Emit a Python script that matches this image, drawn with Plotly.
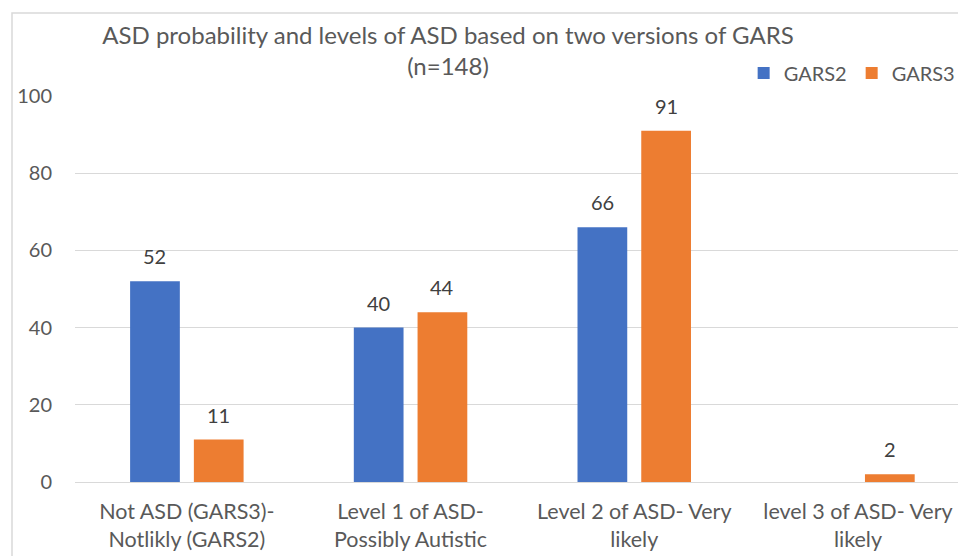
import plotly.graph_objects as go

categories = ["Not ASD (GARS3)-<br>Notlikly (GARS2)", "Level 1 of ASD-<br>Possibly Autistic",
              "Level 2 of ASD- Very<br>likely", "level 3 of ASD- Very<br>likely"]
gars2 = [52, 40, 66, None]
gars3 = [11, 44, 91, 2]
series_names = ["GARS2", "GARS3"]
colors = ["#4472C4", "#ED7D31"]
title_text = "ASD probability and levels of ASD based on two versions of GARS<br>(n=148)"
y_ticks = [0, 20, 40, 60, 80, 100]

FONT = "Lato"
W, H = 958, 556
ML, MT, MB = 75, 96, 74
BARGAP = 0.43
BARGROUPGAP = 0.22

fig = go.Figure()
for name, vals, col in zip(series_names, [gars2, gars3], colors):
    fig.add_trace(go.Bar(name=name, x=categories, y=vals, marker_color=col,
                         marker_line_width=0))

# data labels
slot = (1 - BARGAP) / len(series_names)
annotations = []
for s, vals in enumerate([gars2, gars3]):
    off = (s - (len(series_names) - 1) / 2) * slot
    for i, v in enumerate(vals):
        if v is None:
            continue
        annotations.append(dict(x=i + off, y=v, text=str(v), showarrow=False,
                                yshift=25, xref="x", yref="y",
                                font=dict(family=FONT, size=20, color="#404040")))

plot_h = H - MT - MB
fig.update_layout(
    width=W, height=H,
    margin=dict(l=ML, r=0, t=MT, b=MB, autoexpand=False),
    paper_bgcolor="white", plot_bgcolor="white",
    barmode="group", bargap=BARGAP, bargroupgap=BARGROUPGAP,
    title=dict(text=title_text, x=448 / W, xref="container", xanchor="center",
               y=1 - 44 / H, yref="container", yanchor="middle",
               font=dict(family=FONT, size=24, color="#595959")),
    legend=dict(orientation="h", x=1.003, xanchor="right", y=(plot_h - (73 - MT)) / plot_h,
                yanchor="middle", font=dict(family=FONT, size=20, color="#595959"),
                bgcolor="rgba(0,0,0,0)", traceorder="normal", itemwidth=30),
    annotations=annotations,
    showlegend=True,
)
fig.update_xaxes(range=[-0.5, -0.5 + (W - ML) / 223.7], showgrid=False, showline=True,
                 linecolor="#D9D9D9", linewidth=1, ticks="", automargin=False,
                 tickfont=dict(family=FONT, size=21.5, color="#595959"),
                 ticklabelstandoff=10, fixedrange=True)
fig.update_yaxes(range=[0, 100], tickvals=y_ticks, showgrid=True, gridcolor="#D9D9D9",
                 gridwidth=1, zeroline=False, showline=False, ticks="", automargin=False,
                 tickfont=dict(family=FONT, size=20, color="#595959"),
                 ticklabelstandoff=22)

# outer chart border (cropped at right and bottom)
plot_w = W - ML
fig.add_shape(type="rect", xref="paper", yref="paper",
              x0=(12 - ML) / plot_w, x1=1.2,
              y0=-0.5, y1=(plot_h + MT - 13) / plot_h,
              line=dict(color="#D9D9D9", width=1.5), layer="below")

fig.write_html("out.html", config={"displayModeBar": False},
               post_script="document.body.style.margin='0';document.body.style.overflow='hidden';")
